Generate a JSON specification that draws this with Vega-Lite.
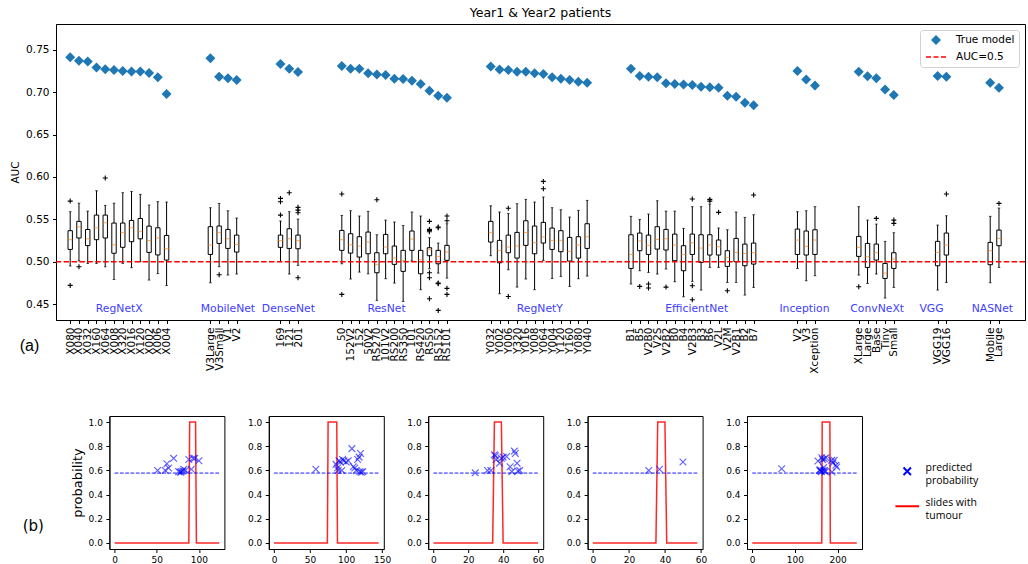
{
  "$schema": "https://vega.github.io/schema/vega-lite/v6.json",
  "padding": {"left": 10, "top": 6, "right": 0, "bottom": 0},
  "config": {
    "font": "DejaVu Sans",
    "view": {"stroke": "#000", "strokeWidth": 1},
    "axis": {"grid": false, "labelColor": "#000", "titleColor": "#000", "tickColor": "#000", "domainColor": "#000", "titleFontWeight": "normal", "tickSize": 3.5, "labelPadding": 3.5}
  },
  "datasets": {
    "models": [
      {"family":"RegNetX","model":"X080","pos":1,"auc":0.741,"wlo":0.495,"q1":0.5145,"med":0.526,"q3":0.5366,"whi":0.559},
      {"family":"RegNetX","model":"X040","pos":2,"auc":0.737,"wlo":0.501,"q1":0.528,"med":0.541,"q3":0.5476,"whi":0.569},
      {"family":"RegNetX","model":"X032","pos":3,"auc":0.736,"wlo":0.498,"q1":0.519,"med":0.527,"q3":0.538,"whi":0.5597},
      {"family":"RegNetX","model":"X160","pos":4,"auc":0.729,"wlo":0.498,"q1":0.526,"med":0.54,"q3":0.555,"whi":0.5837},
      {"family":"RegNetX","model":"X064","pos":5,"auc":0.727,"wlo":0.494,"q1":0.528,"med":0.546,"q3":0.555,"whi":0.5664},
      {"family":"RegNetX","model":"X008","pos":6,"auc":0.726,"wlo":0.479,"q1":0.51,"med":0.52,"q3":0.5456,"whi":0.569},
      {"family":"RegNetX","model":"X320","pos":7,"auc":0.725,"wlo":0.498,"q1":0.517,"med":0.5346,"q3":0.5456,"whi":0.5814},
      {"family":"RegNetX","model":"X016","pos":8,"auc":0.7244,"wlo":0.493,"q1":0.5236,"med":0.54,"q3":0.5487,"whi":0.5829},
      {"family":"RegNetX","model":"X120","pos":9,"auc":0.7242,"wlo":0.5,"q1":0.527,"med":0.5358,"q3":0.551,"whi":0.5794},
      {"family":"RegNetX","model":"X002","pos":10,"auc":0.7225,"wlo":0.4784,"q1":0.511,"med":0.525,"q3":0.542,"whi":0.5668},
      {"family":"RegNetX","model":"X006","pos":11,"auc":0.7174,"wlo":0.486,"q1":0.508,"med":0.528,"q3":0.54,"whi":0.5708},
      {"family":"RegNetX","model":"X004","pos":12,"auc":0.6977,"wlo":0.472,"q1":0.502,"med":0.5153,"q3":0.531,"whi":0.5704},
      {"family":"MobileNet","model":"V3Large","pos":17,"auc":0.7398,"wlo":0.4752,"q1":0.5086,"med":0.5197,"q3":0.5413,"whi":0.5637},
      {"family":"MobileNet","model":"V3Small","pos":18,"auc":0.7182,"wlo":0.4941,"q1":0.5216,"med":0.5346,"q3":0.5421,"whi":0.5688},
      {"family":"MobileNet","model":"V1","pos":19,"auc":0.7162,"wlo":0.4843,"q1":0.5157,"med":0.5271,"q3":0.5381,"whi":0.5601},
      {"family":"MobileNet","model":"V2","pos":20,"auc":0.7142,"wlo":0.4855,"q1":0.5114,"med":0.5204,"q3":0.5314,"whi":0.5515},
      {"family":"DenseNet","model":"169","pos":25,"auc":0.7331,"wlo":0.5,"q1":0.5169,"med":0.5248,"q3":0.5314,"whi":0.548},
      {"family":"DenseNet","model":"121","pos":26,"auc":0.7276,"wlo":0.4855,"q1":0.5157,"med":0.5271,"q3":0.5389,"whi":0.559},
      {"family":"DenseNet","model":"201","pos":27,"auc":0.7237,"wlo":0.4957,"q1":0.5153,"med":0.5248,"q3":0.5314,"whi":0.5503},
      {"family":"ResNet","model":"50","pos":32,"auc":0.7307,"wlo":0.4976,"q1":0.5134,"med":0.5259,"q3":0.5369,"whi":0.5546},
      {"family":"ResNet","model":"152V2","pos":33,"auc":0.7276,"wlo":0.4796,"q1":0.5102,"med":0.52,"q3":0.533,"whi":0.5601},
      {"family":"ResNet","model":"152","pos":34,"auc":0.7276,"wlo":0.4878,"q1":0.5055,"med":0.5185,"q3":0.5295,"whi":0.5539},
      {"family":"ResNet","model":"50V2","pos":35,"auc":0.7221,"wlo":0.4858,"q1":0.5094,"med":0.5232,"q3":0.535,"whi":0.5594},
      {"family":"ResNet","model":"RS270","pos":36,"auc":0.7209,"wlo":0.4544,"q1":0.487,"med":0.4969,"q3":0.5106,"whi":0.5318},
      {"family":"ResNet","model":"101V2","pos":37,"auc":0.7201,"wlo":0.48,"q1":0.5094,"med":0.5173,"q3":0.5322,"whi":0.5491},
      {"family":"ResNet","model":"RS200","pos":38,"auc":0.7158,"wlo":0.4748,"q1":0.4969,"med":0.5043,"q3":0.5185,"whi":0.5468},
      {"family":"ResNet","model":"RS350","pos":39,"auc":0.7154,"wlo":0.4532,"q1":0.4886,"med":0.5016,"q3":0.5134,"whi":0.5428},
      {"family":"ResNet","model":"101","pos":40,"auc":0.7134,"wlo":0.5008,"q1":0.5134,"med":0.5267,"q3":0.5362,"whi":0.5586},
      {"family":"ResNet","model":"RS420","pos":41,"auc":0.7095,"wlo":0.467,"q1":0.4858,"med":0.5024,"q3":0.5134,"whi":0.5539},
      {"family":"ResNet","model":"RS50","pos":42,"auc":0.7016,"wlo":0.4917,"q1":0.5071,"med":0.5142,"q3":0.5165,"whi":0.5283},
      {"family":"ResNet","model":"RS152","pos":43,"auc":0.6958,"wlo":0.4866,"q1":0.4976,"med":0.5063,"q3":0.5134,"whi":0.522},
      {"family":"ResNet","model":"RS101","pos":44,"auc":0.6934,"wlo":0.4807,"q1":0.5016,"med":0.5114,"q3":0.5193,"whi":0.5448},
      {"family":"RegNetY","model":"Y032","pos":49,"auc":0.7303,"wlo":0.5071,"q1":0.5232,"med":0.5346,"q3":0.5476,"whi":0.566},
      {"family":"RegNetY","model":"Y002","pos":50,"auc":0.7268,"wlo":0.4623,"q1":0.4988,"med":0.5134,"q3":0.5252,"whi":0.5586},
      {"family":"RegNetY","model":"Y006","pos":51,"auc":0.726,"wlo":0.4906,"q1":0.5106,"med":0.5173,"q3":0.5314,"whi":0.557},
      {"family":"RegNetY","model":"Y320","pos":52,"auc":0.7241,"wlo":0.4701,"q1":0.5043,"med":0.5185,"q3":0.5346,"whi":0.5684},
      {"family":"RegNetY","model":"Y016","pos":53,"auc":0.7241,"wlo":0.4796,"q1":0.5193,"med":0.5346,"q3":0.5483,"whi":0.5735},
      {"family":"RegNetY","model":"Y008","pos":54,"auc":0.7221,"wlo":0.467,"q1":0.5094,"med":0.5224,"q3":0.5421,"whi":0.5704},
      {"family":"RegNetY","model":"Y064","pos":55,"auc":0.7213,"wlo":0.5016,"q1":0.522,"med":0.5291,"q3":0.5464,"whi":0.5763},
      {"family":"RegNetY","model":"Y004","pos":56,"auc":0.7174,"wlo":0.4803,"q1":0.5145,"med":0.5252,"q3":0.5397,"whi":0.5637},
      {"family":"RegNetY","model":"Y120","pos":57,"auc":0.7158,"wlo":0.4827,"q1":0.5118,"med":0.5252,"q3":0.5366,"whi":0.5613},
      {"family":"RegNetY","model":"Y160","pos":58,"auc":0.7142,"wlo":0.4709,"q1":0.5008,"med":0.5122,"q3":0.5287,"whi":0.5527},
      {"family":"RegNetY","model":"Y080","pos":59,"auc":0.7123,"wlo":0.48,"q1":0.5043,"med":0.5197,"q3":0.5295,"whi":0.5605},
      {"family":"RegNetY","model":"Y040","pos":60,"auc":0.7111,"wlo":0.4831,"q1":0.5157,"med":0.5295,"q3":0.5448,"whi":0.5723},
      {"family":"EfficientNet","model":"B1","pos":65,"auc":0.7276,"wlo":0.4737,"q1":0.4921,"med":0.5086,"q3":0.5318,"whi":0.5535},
      {"family":"EfficientNet","model":"B5","pos":66,"auc":0.7189,"wlo":0.4894,"q1":0.513,"med":0.5244,"q3":0.5338,"whi":0.5499},
      {"family":"EfficientNet","model":"V2B0","pos":67,"auc":0.7182,"wlo":0.4874,"q1":0.5086,"med":0.5193,"q3":0.5314,"whi":0.5562},
      {"family":"EfficientNet","model":"V2S","pos":68,"auc":0.7174,"wlo":0.4855,"q1":0.5149,"med":0.5263,"q3":0.5413,"whi":0.5719},
      {"family":"EfficientNet","model":"V2B2","pos":69,"auc":0.7103,"wlo":0.4914,"q1":0.5138,"med":0.5271,"q3":0.5381,"whi":0.5597},
      {"family":"EfficientNet","model":"B0","pos":70,"auc":0.7095,"wlo":0.4764,"q1":0.5012,"med":0.5197,"q3":0.5326,"whi":0.5597},
      {"family":"EfficientNet","model":"B4","pos":71,"auc":0.7091,"wlo":0.4587,"q1":0.4894,"med":0.5086,"q3":0.5189,"whi":0.5393},
      {"family":"EfficientNet","model":"V2B3","pos":72,"auc":0.7083,"wlo":0.4768,"q1":0.5086,"med":0.5224,"q3":0.5326,"whi":0.5649},
      {"family":"EfficientNet","model":"B3","pos":73,"auc":0.7064,"wlo":0.4666,"q1":0.4992,"med":0.5161,"q3":0.5318,"whi":0.5649},
      {"family":"EfficientNet","model":"B6","pos":74,"auc":0.7056,"wlo":0.4933,"q1":0.5079,"med":0.5197,"q3":0.5318,"whi":0.568},
      {"family":"EfficientNet","model":"V2L","pos":75,"auc":0.7052,"wlo":0.4933,"q1":0.5079,"med":0.5177,"q3":0.5256,"whi":0.5397},
      {"family":"EfficientNet","model":"V2M","pos":76,"auc":0.6958,"wlo":0.4756,"q1":0.4945,"med":0.5051,"q3":0.513,"whi":0.5377},
      {"family":"EfficientNet","model":"V2B1","pos":77,"auc":0.6946,"wlo":0.4756,"q1":0.5,"med":0.511,"q3":0.5275,"whi":0.5586},
      {"family":"EfficientNet","model":"B2","pos":78,"auc":0.6875,"wlo":0.4607,"q1":0.4953,"med":0.5098,"q3":0.5208,"whi":0.5523},
      {"family":"EfficientNet","model":"B7","pos":79,"auc":0.6844,"wlo":0.4697,"q1":0.4972,"med":0.5106,"q3":0.522,"whi":0.5554},
      {"family":"Inception","model":"V2","pos":84,"auc":0.7248,"wlo":0.4921,"q1":0.5086,"med":0.5256,"q3":0.5385,"whi":0.559},
      {"family":"Inception","model":"V3","pos":85,"auc":0.715,"wlo":0.4776,"q1":0.5079,"med":0.5181,"q3":0.5362,"whi":0.5601},
      {"family":"Inception","model":"Xception","pos":86,"auc":0.7079,"wlo":0.4835,"q1":0.5086,"med":0.5256,"q3":0.5377,"whi":0.5649},
      {"family":"ConvNeXt","model":"XLarge","pos":91,"auc":0.7241,"wlo":0.4843,"q1":0.5063,"med":0.5169,"q3":0.5299,"whi":0.5649},
      {"family":"ConvNeXt","model":"Large","pos":92,"auc":0.7186,"wlo":0.4744,"q1":0.4933,"med":0.5059,"q3":0.5216,"whi":0.5491},
      {"family":"ConvNeXt","model":"Base","pos":93,"auc":0.7162,"wlo":0.4855,"q1":0.502,"med":0.5106,"q3":0.5208,"whi":0.5444},
      {"family":"ConvNeXt","model":"Tiny","pos":94,"auc":0.7032,"wlo":0.4572,"q1":0.4803,"med":0.4866,"q3":0.498,"whi":0.524},
      {"family":"ConvNeXt","model":"Small","pos":95,"auc":0.6965,"wlo":0.4697,"q1":0.4921,"med":0.5031,"q3":0.5106,"whi":0.5342},
      {"family":"VGG","model":"VGG19","pos":100,"auc":0.7189,"wlo":0.4666,"q1":0.4953,"med":0.511,"q3":0.524,"whi":0.5432},
      {"family":"VGG","model":"VGG16","pos":101,"auc":0.7182,"wlo":0.4756,"q1":0.5079,"med":0.5197,"q3":0.5338,"whi":0.5542},
      {"family":"NASNet","model":"Mobile","pos":106,"auc":0.7111,"wlo":0.4752,"q1":0.4965,"med":0.513,"q3":0.5228,"whi":0.5535},
      {"family":"NASNet","model":"Large","pos":107,"auc":0.7052,"wlo":0.4933,"q1":0.5189,"med":0.5275,"q3":0.5373,"whi":0.5633}
    ],
    "outliers": [
      {"pos":1,"v":0.5715},{"pos":1,"v":0.4721},{"pos":2,"v":0.4941},{"pos":5,"v":0.5987},{"pos":18,"v":0.4847},
      {"pos":25,"v":0.5747},{"pos":25,"v":0.5708},{"pos":25,"v":0.555},{"pos":26,"v":0.5814},
      {"pos":27,"v":0.5641},{"pos":27,"v":0.5609},{"pos":27,"v":0.5578},{"pos":27,"v":0.4811},
      {"pos":32,"v":0.5798},{"pos":32,"v":0.4615},{"pos":36,"v":0.5731},
      {"pos":42,"v":0.5476},{"pos":42,"v":0.5381},{"pos":42,"v":0.537},{"pos":42,"v":0.5354},{"pos":42,"v":0.487},{"pos":42,"v":0.4811},{"pos":42,"v":0.4564},
      {"pos":43,"v":0.5409},{"pos":43,"v":0.5401},{"pos":43,"v":0.4748},{"pos":43,"v":0.4741},{"pos":43,"v":0.4426},
      {"pos":44,"v":0.5539},{"pos":44,"v":0.5483},{"pos":44,"v":0.4686},{"pos":44,"v":0.4615},
      {"pos":51,"v":0.563},{"pos":51,"v":0.459},{"pos":55,"v":0.5947},{"pos":55,"v":0.5861},
      {"pos":66,"v":0.4709},{"pos":67,"v":0.4737},{"pos":67,"v":0.469},{"pos":69,"v":0.4701},
      {"pos":72,"v":0.5739},{"pos":72,"v":0.4717},{"pos":72,"v":0.4552},{"pos":74,"v":0.5735},{"pos":74,"v":0.5715},
      {"pos":75,"v":0.5582},{"pos":76,"v":0.4658},{"pos":79,"v":0.5786},{"pos":91,"v":0.4705},{"pos":93,"v":0.5511},
      {"pos":95,"v":0.5491},{"pos":95,"v":0.5452},{"pos":101,"v":0.5798},{"pos":107,"v":0.5688}
    ],
    "groups": [
      {"family":"RegNetX","lx":6.6},{"family":"MobileNet","lx":19.0},{"family":"DenseNet","lx":25.9},
      {"family":"ResNet","lx":37.1},{"family":"RegNetY","lx":54.6},{"family":"EfficientNet","lx":72.5},
      {"family":"Inception","lx":84.8},{"family":"ConvNeXt","lx":93.1},{"family":"VGG","lx":99.3},{"family":"NASNet","lx":106.25}
    ],
    "line1": [{"slide":0,"tumour":0},{"slide":88,"tumour":0},{"slide":89,"tumour":1},{"slide":96,"tumour":1},{"slide":97,"tumour":0},{"slide":124,"tumour":0}],
    "line2": [{"slide":0,"tumour":0},{"slide":74,"tumour":0},{"slide":75,"tumour":1},{"slide":87,"tumour":1},{"slide":88,"tumour":0},{"slide":145,"tumour":0}],
    "line3": [{"slide":0,"tumour":0},{"slide":34,"tumour":0},{"slide":35,"tumour":1},{"slide":39,"tumour":1},{"slide":40,"tumour":0},{"slide":60,"tumour":0}],
    "line4": [{"slide":0,"tumour":0},{"slide":35,"tumour":0},{"slide":36,"tumour":1},{"slide":40,"tumour":1},{"slide":41,"tumour":0},{"slide":58,"tumour":0}],
    "line5": [{"slide":0,"tumour":0},{"slide":163,"tumour":0},{"slide":164,"tumour":1},{"slide":182,"tumour":1},{"slide":183,"tumour":0},{"slide":245,"tumour":0}],
    "thr1": [{"start":0,"end":124,"thr":0.578}],
    "thr2": [{"start":0,"end":145,"thr":0.578}],
    "thr3": [{"start":0,"end":60,"thr":0.578}],
    "thr4": [{"start":0,"end":58,"thr":0.578}],
    "thr5": [{"start":0,"end":245,"thr":0.578}],
    "pred1": [{"slide":51,"prob":0.6},{"slide":60,"prob":0.6},{"slide":62,"prob":0.655},{"slide":64,"prob":0.62},{"slide":70,"prob":0.7},{"slide":76,"prob":0.59},{"slide":78,"prob":0.585},{"slide":79,"prob":0.59},{"slide":81,"prob":0.595},{"slide":82,"prob":0.61},{"slide":84,"prob":0.6},{"slide":88,"prob":0.69},{"slide":91,"prob":0.61},{"slide":93,"prob":0.7},{"slide":95,"prob":0.7},{"slide":100,"prob":0.68}],
    "pred2": [{"slide":58,"prob":0.61},{"slide":86,"prob":0.65},{"slide":88,"prob":0.62},{"slide":89,"prob":0.6},{"slide":90,"prob":0.68},{"slide":92,"prob":0.67},{"slide":94,"prob":0.6},{"slide":95,"prob":0.69},{"slide":97,"prob":0.68},{"slide":100,"prob":0.67},{"slide":103,"prob":0.68},{"slide":108,"prob":0.78},{"slide":110,"prob":0.63},{"slide":112,"prob":0.62},{"slide":114,"prob":0.6},{"slide":116,"prob":0.69},{"slide":118,"prob":0.71},{"slide":119,"prob":0.59},{"slide":120,"prob":0.74},{"slide":121,"prob":0.585},{"slide":123,"prob":0.59}],
    "pred3": [{"slide":24,"prob":0.58},{"slide":31,"prob":0.6},{"slide":33,"prob":0.6},{"slide":35,"prob":0.73},{"slide":35.5,"prob":0.72},{"slide":36,"prob":0.69},{"slide":38,"prob":0.66},{"slide":39,"prob":0.7},{"slide":40,"prob":0.71},{"slide":42,"prob":0.715},{"slide":44,"prob":0.63},{"slide":45,"prob":0.59},{"slide":46.5,"prob":0.76},{"slide":47,"prob":0.74},{"slide":48,"prob":0.66},{"slide":48.5,"prob":0.595},{"slide":49.5,"prob":0.6}],
    "pred4": [{"slide":31,"prob":0.6},{"slide":37,"prob":0.61},{"slide":50,"prob":0.67}],
    "pred5": [{"slide":69,"prob":0.614},{"slide":154,"prob":0.678},{"slide":158,"prob":0.6},{"slide":159,"prob":0.606},{"slide":161,"prob":0.595},{"slide":162,"prob":0.59},{"slide":163,"prob":0.705},{"slide":165,"prob":0.689},{"slide":166,"prob":0.6},{"slide":167,"prob":0.623},{"slide":169,"prob":0.697},{"slide":170,"prob":0.6},{"slide":171,"prob":0.59},{"slide":173,"prob":0.705},{"slide":186,"prob":0.683},{"slide":187,"prob":0.587},{"slide":189,"prob":0.661},{"slide":192,"prob":0.683},{"slide":196,"prob":0.642},{"slide":198,"prob":0.628}]
  },
  "resolve": {"scale": {"color": "independent", "shape": "independent"}, "legend": {"color": "independent", "shape": "independent"}},
  "spacing": 41,
  "vconcat": [
    {
      "title": {"text": "Year1 & Year2 patients", "fontSize": 12.5, "fontWeight": "normal", "font": "DejaVu Sans", "color": "#000", "baseline": "bottom", "offset": -8, "frame": "group"},
      "width": 969,
      "height": 296,
      "data": {"name": "models"},
      "layer": [
        {
          "mark": {"type": "rule", "color": "#000", "strokeWidth": 1},
          "encoding": {
            "x": {"field": "pos", "type": "quantitative", "scale": {"domain": [-0.05, 109.4], "nice": false, "zero": false},
              "axis": {"values": [1,2,3,4,5,6,7,8,9,10,11,12,17,18,19,20,25,26,27,32,33,34,35,36,37,38,39,40,41,42,43,44,49,50,51,52,53,54,55,56,57,58,59,60,65,66,67,68,69,70,71,72,73,74,75,76,77,78,79,84,85,86,91,92,93,94,95,100,101,106,107],
                "tickCount": 1000,
                "labelExpr": "['','X080','X040','X032','X160','X064','X008','X320','X016','X120','X002','X006','X004','','','','','V3Large','V3Small','V1','V2','','','','','169','121','201','','','','','50','152V2','152','50V2','RS270','101V2','RS200','RS350','101','RS420','RS50','RS152','RS101','','','','','Y032','Y002','Y006','Y320','Y016','Y008','Y064','Y004','Y120','Y160','Y080','Y040','','','','','B1','B5','V2B0','V2S','V2B2','B0','B4','V2B3','B3','B6','V2L','V2M','V2B1','B2','B7','','','','','V2','V3','Xception','','','','','XLarge','Large','Base','Tiny','Small','','','','','VGG19','VGG16','','','','','Mobile','Large'][datum.value]",
                "labelAngle": -90, "labelFontSize": 10.5, "labelOverlap": false, "labelBound": false, "labelFlush": false,
                "title": "(a)", "titleX": -27, "titleY": 25, "titleAlign": "center", "titleBaseline": "middle", "titleAngle": 0,
                "titleFont": "Liberation Sans", "titleFontSize": 16}},
            "y": {"field": "wlo", "type": "quantitative", "scale": {"domain": [0.4313, 0.7803], "nice": false, "zero": false},
              "axis": {"values": [0.45,0.5,0.55,0.6,0.65,0.7,0.75], "tickCount": 100, "format": ".2f", "labelFontSize": 10.5, "title": "AUC", "titleFontSize": 10.5, "titlePadding": 5}},
            "y2": {"field": "q1"}
          }
        },
        {
          "mark": {"type": "rule", "color": "#000", "strokeWidth": 1},
          "encoding": {"x": {"field": "pos", "type": "quantitative"}, "y": {"field": "q3", "type": "quantitative"}, "y2": {"field": "whi"}}
        },
        {
          "mark": {"type": "tick", "orient": "horizontal", "color": "#000", "size": 2.6, "thickness": 1},
          "encoding": {"x": {"field": "pos", "type": "quantitative"}, "y": {"field": "wlo", "type": "quantitative"}}
        },
        {
          "mark": {"type": "tick", "orient": "horizontal", "color": "#000", "size": 2.6, "thickness": 1},
          "encoding": {"x": {"field": "pos", "type": "quantitative"}, "y": {"field": "whi", "type": "quantitative"}}
        },
        {
          "mark": {"type": "bar", "orient": "vertical", "filled": false, "color": "#000", "strokeWidth": 1, "size": 4.4},
          "encoding": {"x": {"field": "pos", "type": "quantitative"}, "y": {"field": "q1", "type": "quantitative"}, "y2": {"field": "q3"}}
        },
        {
          "mark": {"type": "tick", "orient": "horizontal", "color": "#ff7f0e", "size": 4.4, "thickness": 1},
          "encoding": {"x": {"field": "pos", "type": "quantitative"}, "y": {"field": "med", "type": "quantitative"}}
        },
        {
          "data": {"name": "outliers"},
          "mark": {"type": "point", "shape": "M-1,0H1M0,-1V1", "filled": false, "color": "#000", "strokeWidth": 1.1, "size": 25, "opacity": 1},
          "encoding": {"x": {"field": "pos", "type": "quantitative"}, "y": {"field": "v", "type": "quantitative"}}
        },
        {
          "mark": {"type": "point", "filled": true, "size": 100, "opacity": 1},
          "encoding": {
            "x": {"field": "pos", "type": "quantitative"},
            "y": {"field": "auc", "type": "quantitative"},
            "color": {"datum": "True model", "type": "nominal", "scale": {"domain": ["True model", "AUC=0.5"], "range": ["#1f77b4", "red"]},
              "legend": {"title": null, "orient": "top-right", "offset": 6, "padding": 4, "symbolOffset": 6, "labelOffset": 14, "rowPadding": 5, "symbolSize": 100, "labelFontSize": 10.5, "labelColor": "#000", "strokeColor": "#d0d0d0", "fillColor": "white", "cornerRadius": 3}},
            "shape": {"datum": "True model", "type": "nominal", "scale": {"domain": ["True model", "AUC=0.5"], "range": ["diamond", "M-2,-0.15H-1V0.15H-2Z M-0.5,-0.15H0.5V0.15H-0.5Z M1,-0.15H2V0.15H1Z"]},
              "legend": {"title": null, "orient": "top-right", "offset": 6, "padding": 4, "symbolOffset": 6, "labelOffset": 14, "rowPadding": 5, "symbolSize": 100, "labelFontSize": 10.5, "labelColor": "#000", "strokeColor": "#d0d0d0", "fillColor": "white", "cornerRadius": 3}}
          }
        },
        {
          "data": {"values": [{}]},
          "mark": {"type": "rule", "color": "red", "strokeDash": [5.5, 2.4], "strokeWidth": 1.5},
          "encoding": {"y": {"datum": 0.5}}
        },
        {
          "data": {"name": "groups"},
          "mark": {"type": "text", "color": "#4040ff", "fontSize": 10.8, "align": "center", "baseline": "middle"},
          "encoding": {"x": {"field": "lx", "type": "quantitative"}, "y": {"datum": 0.4442}, "text": {"field": "family"}}
        }
      ]
    },
    {
      "hconcat": [
        {
          "width": 8.6, "height": 133,
          "view": {"stroke": null},
          "data": {"values": []},
          "mark": "point"
        },
        {
          "width": 115, "height": 133,
          "layer": [
            {"data": {"name": "line1"}, "mark": {"type": "line", "color": "red", "strokeWidth": 1.5, "opacity": 0.85},
              "encoding": {
                "x": {"field": "slide", "type": "quantitative", "scale": {"domain": [-6.2, 130.2], "nice": false, "zero": false},
                  "axis": {"values": [0, 50, 100], "tickCount": 100, "format": "d", "labelFontSize": 9, "labelPadding": 2.5,
                    "title": "(b)", "titleX": -66, "titleY": -24, "titleAlign": "right", "titleBaseline": "middle", "titleAngle": 0, "titleFont": "DejaVu Sans", "titleFontSize": 15}},
                "y": {"field": "tumour", "type": "quantitative", "scale": {"domain": [-0.05, 1.05], "nice": false, "zero": false},
                  "axis": {"values": [0, 0.2, 0.4, 0.6, 0.8, 1.0], "tickCount": 100, "format": ".1f", "labelFontSize": 9, "title": "probability", "titleFontSize": 13, "titlePadding": 3.5}}
              }},
            {"data": {"name": "thr1"}, "mark": {"type": "rule", "color": "blue", "strokeDash": [3.7, 1.6], "strokeWidth": 0.9},
              "encoding": {"x": {"field": "start", "type": "quantitative"}, "x2": {"field": "end"}, "y": {"field": "thr", "type": "quantitative"}}},
            {"data": {"name": "pred1"}, "mark": {"type": "point", "shape": "M-1,-1L1,1M-1,1L1,-1", "filled": false, "color": "blue", "strokeWidth": 1.2, "opacity": 0.6, "size": 45},
              "encoding": {"x": {"field": "slide", "type": "quantitative"}, "y": {"field": "prob", "type": "quantitative"}}}
          ]
        },
        {
          "width": 115, "height": 133,
          "layer": [
            {"data": {"name": "line2"}, "mark": {"type": "line", "color": "red", "strokeWidth": 1.5, "opacity": 0.85},
              "encoding": {
                "x": {"field": "slide", "type": "quantitative", "scale": {"domain": [-7.25, 152.25], "nice": false, "zero": false},
                  "axis": {"values": [0, 50, 100, 150], "tickCount": 100, "format": "d", "labelFontSize": 9, "labelPadding": 2.5, "title": null}},
                "y": {"field": "tumour", "type": "quantitative", "scale": {"domain": [-0.05, 1.05], "nice": false, "zero": false},
                  "axis": {"values": [0, 0.2, 0.4, 0.6, 0.8, 1.0], "tickCount": 100, "format": ".1f", "labelFontSize": 9, "title": null}}
              }},
            {"data": {"name": "thr2"}, "mark": {"type": "rule", "color": "blue", "strokeDash": [3.7, 1.6], "strokeWidth": 0.9},
              "encoding": {"x": {"field": "start", "type": "quantitative"}, "x2": {"field": "end"}, "y": {"field": "thr", "type": "quantitative"}}},
            {"data": {"name": "pred2"}, "mark": {"type": "point", "shape": "M-1,-1L1,1M-1,1L1,-1", "filled": false, "color": "blue", "strokeWidth": 1.2, "opacity": 0.6, "size": 45},
              "encoding": {"x": {"field": "slide", "type": "quantitative"}, "y": {"field": "prob", "type": "quantitative"}}}
          ]
        },
        {
          "width": 115, "height": 133,
          "layer": [
            {"data": {"name": "line3"}, "mark": {"type": "line", "color": "red", "strokeWidth": 1.5, "opacity": 0.85},
              "encoding": {
                "x": {"field": "slide", "type": "quantitative", "scale": {"domain": [-3, 63], "nice": false, "zero": false},
                  "axis": {"values": [0, 20, 40, 60], "tickCount": 100, "format": "d", "labelFontSize": 9, "labelPadding": 2.5, "title": null}},
                "y": {"field": "tumour", "type": "quantitative", "scale": {"domain": [-0.05, 1.05], "nice": false, "zero": false},
                  "axis": {"values": [0, 0.2, 0.4, 0.6, 0.8, 1.0], "tickCount": 100, "format": ".1f", "labelFontSize": 9, "title": null}}
              }},
            {"data": {"name": "thr3"}, "mark": {"type": "rule", "color": "blue", "strokeDash": [3.7, 1.6], "strokeWidth": 0.9},
              "encoding": {"x": {"field": "start", "type": "quantitative"}, "x2": {"field": "end"}, "y": {"field": "thr", "type": "quantitative"}}},
            {"data": {"name": "pred3"}, "mark": {"type": "point", "shape": "M-1,-1L1,1M-1,1L1,-1", "filled": false, "color": "blue", "strokeWidth": 1.2, "opacity": 0.6, "size": 45},
              "encoding": {"x": {"field": "slide", "type": "quantitative"}, "y": {"field": "prob", "type": "quantitative"}}}
          ]
        },
        {
          "width": 115, "height": 133,
          "layer": [
            {"data": {"name": "line4"}, "mark": {"type": "line", "color": "red", "strokeWidth": 1.5, "opacity": 0.85},
              "encoding": {
                "x": {"field": "slide", "type": "quantitative", "scale": {"domain": [-2.9, 60.9], "nice": false, "zero": false},
                  "axis": {"values": [0, 20, 40, 60], "tickCount": 100, "format": "d", "labelFontSize": 9, "labelPadding": 2.5, "title": null}},
                "y": {"field": "tumour", "type": "quantitative", "scale": {"domain": [-0.05, 1.05], "nice": false, "zero": false},
                  "axis": {"values": [0, 0.2, 0.4, 0.6, 0.8, 1.0], "tickCount": 100, "format": ".1f", "labelFontSize": 9, "title": null}}
              }},
            {"data": {"name": "thr4"}, "mark": {"type": "rule", "color": "blue", "strokeDash": [3.7, 1.6], "strokeWidth": 0.9},
              "encoding": {"x": {"field": "start", "type": "quantitative"}, "x2": {"field": "end"}, "y": {"field": "thr", "type": "quantitative"}}},
            {"data": {"name": "pred4"}, "mark": {"type": "point", "shape": "M-1,-1L1,1M-1,1L1,-1", "filled": false, "color": "blue", "strokeWidth": 1.2, "opacity": 0.6, "size": 45},
              "encoding": {"x": {"field": "slide", "type": "quantitative"}, "y": {"field": "prob", "type": "quantitative"}}}
          ]
        },
        {
          "width": 115, "height": 133,
          "layer": [
            {"data": {"name": "line5"}, "mark": {"type": "line", "color": "red", "strokeWidth": 1.5, "opacity": 0.85},
              "encoding": {
                "x": {"field": "slide", "type": "quantitative", "scale": {"domain": [-12.25, 257.25], "nice": false, "zero": false},
                  "axis": {"values": [0, 100, 200], "tickCount": 100, "format": "d", "labelFontSize": 9, "labelPadding": 2.5, "title": null}},
                "y": {"field": "tumour", "type": "quantitative", "scale": {"domain": [-0.05, 1.05], "nice": false, "zero": false},
                  "axis": {"values": [0, 0.2, 0.4, 0.6, 0.8, 1.0], "tickCount": 100, "format": ".1f", "labelFontSize": 9, "title": null}}
              }},
            {"data": {"name": "thr5"}, "mark": {"type": "rule", "color": "blue", "strokeDash": [3.7, 1.6], "strokeWidth": 0.9},
              "encoding": {"x": {"field": "start", "type": "quantitative"}, "x2": {"field": "end"}, "y": {"field": "thr", "type": "quantitative"}}},
            {"data": {"name": "pred5"}, "mark": {"type": "point", "filled": false, "strokeWidth": 1.2, "opacity": 0.6, "size": 45},
              "encoding": {
                "x": {"field": "slide", "type": "quantitative"},
                "y": {"field": "prob", "type": "quantitative"},
                "color": {"datum": "predicted probability", "type": "nominal", "scale": {"domain": ["predicted probability", "slides with tumour"], "range": ["blue", "red"]},
                  "legend": {"title": null, "orient": "none", "legendX": 155, "legendY": 50, "padding": 0, "symbolSize": 55, "symbolStrokeWidth": 2, "symbolOpacity": 1, "labelOffset": 13, "rowPadding": 11, "labelBaseline": "alphabetic", "labelFont": "Open Sans", "labelFontSize": 10.5, "labelColor": "#000", "labelLimit": 300,
                    "labelExpr": "datum.label == 'slides with tumour' ? ['slides with', 'tumour'] : ['predicted', 'probability']"}},
                "shape": {"datum": "predicted probability", "type": "nominal", "scale": {"domain": ["predicted probability", "slides with tumour"], "range": ["M-1,-1L1,1M-1,1L1,-1", "M-3.2,0H3.2"]},
                  "legend": {"title": null, "orient": "none", "legendX": 155, "legendY": 50, "padding": 0, "symbolSize": 55, "symbolStrokeWidth": 2, "symbolOpacity": 1, "labelOffset": 13, "rowPadding": 11, "labelBaseline": "alphabetic", "labelFont": "Open Sans", "labelFontSize": 10.5, "labelColor": "#000", "labelLimit": 300,
                    "labelExpr": "datum.label == 'slides with tumour' ? ['slides with', 'tumour'] : ['predicted', 'probability']"}}
              }}
          ]
        }
      ],
      "spacing": 44.4,
      "bounds": "flush",
      "resolve": {"scale": {"color": "independent", "shape": "independent"}, "legend": {"color": "independent", "shape": "independent"}}
    }
  ]
}
